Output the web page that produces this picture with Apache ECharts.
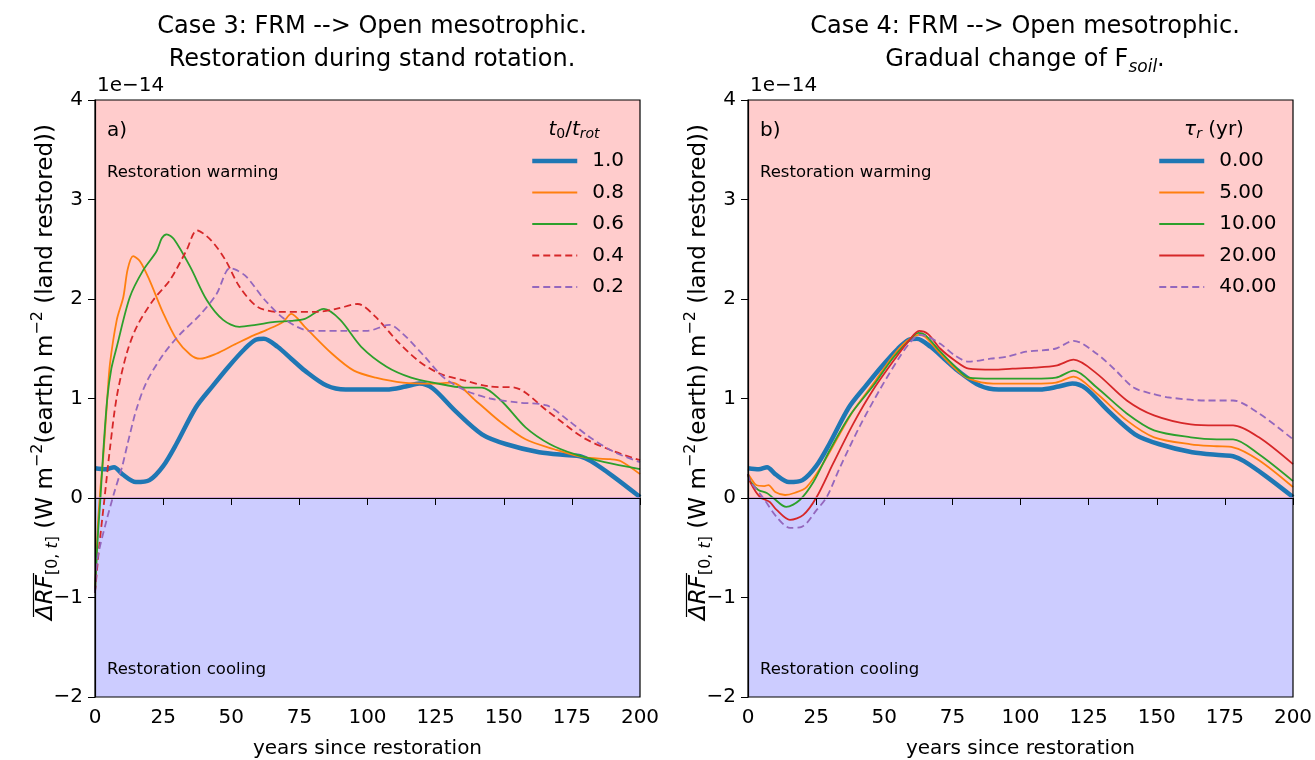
<!DOCTYPE html>
<html>
<head>
<meta charset="utf-8">
<title>Case 3 / Case 4 restoration forcing</title>
<script src="https://cdn.jsdelivr.net/npm/echarts@6/dist/echarts.min.js"></script>
<style>
  html, body { margin: 0; padding: 0; background: #fff; }
  #chart { width: 1315px; height: 760px; }
</style>
</head>
<body>
<div id="chart"></div>
<script>
// values are [years since restoration, forcing in units of 1e-14]
const yearTicks = [0, 25, 50, 75, 100, 125, 150, 175, 200]
const forcingTicks = [-2, -1, 0, 1, 2, 3, 4]

// Case 3 (t0/trot)
const namesA = ['1.0', '0.8', '0.6', '0.4', '0.2']
// 1.0 is also the 0.00 curve of case 4
const blueBase = [[0,0.30],[4,0.29],[7,0.31],[10,0.24],[15,0.16],[20,0.18],[25,0.32],[30,0.55],[37,0.91],[43,1.12],[49,1.32],[55,1.50],[59,1.59],[62,1.60],[67,1.52],[72,1.40],[77,1.28],[85,1.13],[92,1.09],[100,1.09],[107,1.09],[114,1.12],[119,1.15],[124,1.10],[132,0.88],[142,0.64],[151,0.54],[163,0.46],[174,0.43],[178,0.42],[182,0.37],[190,0.22],[200,0.01]]
const orangeA = [[0,-0.95],[1,-0.3],[2,0.1],[3,0.4],[4.5,1.0],[5.5,1.35],[8,1.79],[10.4,2.02],[12,2.3],[14,2.43],[16.5,2.38],[20,2.19],[25,1.86],[30,1.59],[35,1.44],[38.5,1.40],[44.5,1.45],[51,1.54],[57,1.62],[63,1.69],[69,1.77],[72,1.85],[77,1.72],[87,1.45],[95,1.28],[103,1.21],[113,1.16],[124,1.15],[131,1.16],[139.6,0.98],[149,0.76],[158,0.59],[168.5,0.49],[179,0.41],[189,0.39],[193,0.37],[200,0.24]]
const greenA = [[0,-0.95],[1,-0.4],[2,0.0],[3,0.45],[4.5,1.0],[6,1.3],[8,1.52],[12.8,2.02],[17.7,2.29],[22.6,2.48],[24.5,2.61],[26.3,2.65],[29,2.6],[35,2.32],[41,1.99],[47,1.79],[53,1.72],[59,1.74],[66,1.77],[72,1.78],[77,1.80],[84,1.90],[90,1.79],[97.7,1.52],[107,1.32],[116,1.21],[124,1.16],[135.7,1.11],[142,1.11],[149,0.98],[158,0.71],[167,0.54],[176,0.44],[187,0.36],[200,0.29]]
const redA = [[0,-0.95],[1.5,-0.5],[3.5,0],[5.5,0.5],[8,1.02],[11.6,1.45],[15.3,1.72],[21.4,1.99],[27.5,2.19],[33.6,2.49],[37.4,2.69],[42.6,2.59],[47.9,2.39],[53.1,2.12],[59.7,1.92],[67.5,1.87],[80.6,1.87],[88.5,1.90],[96.4,1.95],[103,1.82],[110.8,1.58],[118.6,1.38],[126.5,1.25],[135.7,1.18],[145,1.12],[154,1.11],[165.8,0.88],[179,0.61],[189.4,0.48],[200,0.38]]
const purpleA = [[0,-0.95],[1,-0.6],[4,-0.25],[7,0.05],[10,0.32],[12,0.55],[15.3,0.9],[19,1.17],[25,1.44],[31,1.64],[38.5,1.84],[44.6,2.05],[49.5,2.31],[52,2.29],[55.7,2.22],[62.3,1.99],[70,1.79],[79,1.68],[90,1.68],[100,1.68],[108,1.74],[113,1.65],[121,1.42],[128,1.21],[136,1.08],[145,1.00],[155,0.96],[165.8,0.93],[173.7,0.78],[181.6,0.61],[190.7,0.46],[200,0.36]]

// Case 4 (tau_r)
const namesB = ['0.00', '5.00', '10.00', '20.00', '40.00']
const orangeB = [[0,0.24],[1,0.2],[3,0.13],[6,0.12],[7.5,0.13],[10,0.06],[13.6,0.03],[17,0.05],[21.5,0.11],[27.6,0.35],[33.8,0.65],[38.7,0.88],[46,1.15],[53,1.42],[58,1.57],[62.5,1.64],[65,1.62],[70.6,1.45],[76,1.30],[81,1.20],[90,1.15],[97,1.15],[105,1.15],[113,1.16],[119.5,1.22],[128,1.05],[139,0.78],[149,0.61],[162.5,0.54],[172,0.52],[178,0.51],[187.5,0.38],[200,0.11]]
const greenB = [[0,0.24],[1,0.16],[3.8,0.08],[6.9,0.05],[9.3,0.0],[14,-0.09],[19,-0.02],[24,0.16],[30,0.48],[37.4,0.83],[46,1.13],[53,1.40],[59,1.58],[62.5,1.66],[65,1.64],[70.6,1.47],[76,1.32],[81,1.21],[90,1.20],[97,1.20],[105,1.20],[113,1.21],[119.5,1.28],[128,1.11],[139,0.85],[149,0.68],[162.5,0.61],[172,0.59],[178,0.59],[187.5,0.44],[200,0.17]]
const redB = [[0,0.24],[1,0.15],[4.4,0.01],[8,-0.04],[10.5,-0.12],[15.4,-0.22],[20.3,-0.17],[25.2,0.01],[31.3,0.35],[38.7,0.75],[46,1.09],[54.5,1.42],[59,1.58],[62.8,1.68],[66,1.65],[70.6,1.50],[76,1.38],[81,1.30],[90,1.29],[97,1.30],[105,1.31],[113,1.33],[119.5,1.39],[128,1.25],[139,0.98],[149,0.83],[162.5,0.74],[172,0.73],[178,0.73],[187.5,0.61],[200,0.34]]
const purpleB = [[0,0.24],[1,0.16],[5.6,0.0],[10.5,-0.19],[15.4,-0.30],[19.7,-0.29],[25.2,-0.12],[28.9,0.01],[33.8,0.31],[41,0.72],[48.4,1.09],[55.7,1.42],[60,1.58],[63,1.64],[66,1.62],[70.6,1.55],[76,1.43],[81,1.37],[89,1.40],[95,1.42],[102,1.47],[112.7,1.50],[119.5,1.58],[128,1.45],[135,1.28],[141.5,1.11],[148,1.05],[154.7,1.01],[167.8,0.98],[178,0.98],[187.5,0.85],[200,0.59]]

const colors = ['#1f77b4', '#ff7f0e', '#2ca02c', '#d62728', '#9467bd']
const FONT = 'DejaVu Sans'
const xMin = yearTicks[0], xMax = yearTicks[yearTicks.length - 1]
const yMin = forcingTicks[0], yMax = forcingTicks[forcingTicks.length - 1]

const chart = echarts.init(document.getElementById('chart'))

const line = (name, data, idx, color, width, dashed) => ({
    name, type: 'line', xAxisIndex: idx, yAxisIndex: idx, data,
    symbol: 'none', smooth: 0.3, z: 3,
    lineStyle: { color, width, type: dashed ? [7, 4] : 'solid' },
    itemStyle: { color }
})

// pink / lavender bands + the zero line
const background = (idx) => ({
    type: 'line', xAxisIndex: idx, yAxisIndex: idx, data: [], silent: true, z: 1,
    markArea: {
        silent: true,
        data: [
            [{ xAxis: xMin, yAxis: 0, itemStyle: { color: '#ffcccc' } }, { xAxis: xMax, yAxis: yMax }],
            [{ xAxis: xMin, yAxis: yMin, itemStyle: { color: '#ccccff' } }, { xAxis: xMax, yAxis: 0 }]
        ]
    },
    markLine: {
        silent: true, symbol: 'none', label: { show: false },
        lineStyle: { color: '#c390d8', width: 1.5, type: 'solid' },
        data: [{ yAxis: 0 }]
    }
})

// fixed plot boxes; v6 would otherwise shrink them to keep the axis names inside
const grids = [
    { left: 95, top: 100, width: 545, height: 597 },
    { left: 748, top: 100, width: 545, height: 597 }
]

const xAxisOf = (idx) => ({
    type: 'value', gridIndex: idx, min: xMin, max: xMax, interval: 25, z: 5,
    name: 'years since restoration', nameLocation: 'middle', nameGap: 42,
    nameTextStyle: { fontSize: 20, fontFamily: FONT, color: '#000' },
    axisLine: { show: true, lineStyle: { color: '#000', width: 1.2 } },
    axisTick: { show: true, inside: false, length: 7, lineStyle: { color: '#000' } },
    axisLabel: { fontSize: 20, fontFamily: FONT, color: '#000', margin: 11 },
    splitLine: { show: false }
})

const yAxisOf = (idx) => ({
    type: 'value', gridIndex: idx, min: yMin, max: yMax, interval: 1, z: 5,
    axisLine: { show: true, onZero: false, lineStyle: { color: '#000', width: 1.2 } },
    axisTick: { show: true, inside: false, length: 7, lineStyle: { color: '#000' } },
    axisLabel: {
        fontSize: 20, fontFamily: FONT, color: '#000', margin: 12,
        formatter: v => (v < 0 ? '−' + Math.abs(v) : String(v))
    },
    splitLine: { show: false }
})

const legendOf = (names, left) => ({
    data: names, orient: 'vertical', left, top: 146,
    itemWidth: 45, itemHeight: 14, itemGap: 11.5,
    selectedMode: false,
    lineStyle: { width: 'inherit' },
    itemStyle: { opacity: 0 },
    textStyle: { fontSize: 20, fontFamily: FONT, color: '#000', padding: [0, 0, 0, 10] }
})

const txt = (x, y, text, size, extra) => ({
    type: 'text', x, y, silent: true, z: 10,
    style: Object.assign({ text, fill: '#000', fontSize: size, fontFamily: FONT, verticalAlign: 'middle' }, extra || {})
})

// rotated y label, laid out piece by piece so the overline can sit over ΔRF
const ctx = document.createElement('canvas').getContext('2d')
const measure = (text, size, italic) => {
    ctx.font = (italic ? 'italic ' : '') + size + 'px "' + FONT + '"'
    return ctx.measureText(text).width
}
const Y_SIZE = 23, Y_SMALL = 16
const yLabelParts = [
    { text: 'ΔRF', small: false, italic: true, shift: 0, over: true },
    { text: '[0, ', small: true, shift: 7 },
    { text: 't', small: true, italic: true, shift: 7 },
    { text: ']', small: true, shift: 7 },
    { text: ' (W m', small: false, shift: 0 },
    { text: '−2', small: true, shift: -8 },
    { text: '(earth) m', small: false, shift: 0 },
    { text: '−2', small: true, shift: -8 },
    { text: ' (land restored))', small: false, shift: 0 }
]
const yLabel = (cx, cy) => {
    const widths = yLabelParts.map(p => measure(p.text, p.small ? Y_SMALL : Y_SIZE, p.italic))
    const total = widths.reduce((a, b) => a + b, 0)
    let cursor = -total / 2
    const children = []
    yLabelParts.forEach((p, i) => {
        children.push({
            type: 'text', x: cursor, y: p.shift,
            style: {
                text: p.text, fill: '#000', fontFamily: FONT,
                fontSize: p.small ? Y_SMALL : Y_SIZE,
                fontStyle: p.italic ? 'italic' : 'normal',
                verticalAlign: 'middle', align: 'left'
            }
        })
        if (p.over) {
            children.push({
                type: 'line',
                shape: { x1: cursor + 3, y1: -12.5, x2: cursor + widths[i] + 2, y2: -12.5 },
                style: { stroke: '#000', lineWidth: 1.2 }
            })
        }
        cursor += widths[i]
    })
    return { type: 'group', x: cx, y: cy, rotation: Math.PI / 2, silent: true, z: 10, children }
}

const option = {
    animation: false,
    backgroundColor: '#fff',
    title: [
        {
            text: 'Case 3: FRM --> Open mesotrophic.\nRestoration during stand rotation.',
            left: 367, top: 5, textAlign: 'center',
            textStyle: { fontSize: 24, fontWeight: 'normal', fontFamily: FONT, color: '#000', lineHeight: 33 }
        },
        {
            text: 'Case 4: FRM --> Open mesotrophic.\nGradual change of F{sub|soil}.',
            left: 1020, top: 5, textAlign: 'center',
            textStyle: {
                fontSize: 24, fontWeight: 'normal', fontFamily: FONT, color: '#000', lineHeight: 33,
                rich: {
                    sub: { fontSize: 17, fontStyle: 'italic', fontFamily: FONT, color: '#000', verticalAlign: 'bottom', lineHeight: 33, padding: [10, 0, 0, 0] }
                }
            }
        }
    ],
    grid: grids.map(g => Object.assign({
        show: true, borderColor: '#000', borderWidth: 1.2, backgroundColor: 'transparent', z: 5,
        containLabel: false, outerBoundsMode: 'none'
    }, g)),
    xAxis: [xAxisOf(0), xAxisOf(1)],
    yAxis: [yAxisOf(0), yAxisOf(1)],
    legend: [legendOf(namesA, 525), legendOf(namesB, 1152)],
    series: [
        background(0),
        line(namesA[0], blueBase, 0, colors[0], 4.5, false),
        line(namesA[1], orangeA, 0, colors[1], 1.8, false),
        line(namesA[2], greenA, 0, colors[2], 1.8, false),
        line(namesA[3], redA, 0, colors[3], 1.8, true),
        line(namesA[4], purpleA, 0, colors[4], 1.8, true),
        background(1),
        line(namesB[0], blueBase, 1, colors[0], 4.5, false),
        line(namesB[1], orangeB, 1, colors[1], 1.8, false),
        line(namesB[2], greenB, 1, colors[2], 1.8, false),
        line(namesB[3], redB, 1, colors[3], 1.8, false),
        line(namesB[4], purpleB, 1, colors[4], 1.8, true)
    ],
    graphic: [
        yLabel(46, 372),
        yLabel(699, 372),
        txt(97, 86, '1e−14', 20),
        txt(750, 86, '1e−14', 20),
        txt(107, 131, 'a)', 20),
        txt(760, 131, 'b)', 20),
        txt(107, 173, 'Restoration warming', 16.5),
        txt(760, 173, 'Restoration warming', 16.5),
        txt(107, 670, 'Restoration cooling', 16.5),
        txt(760, 670, 'Restoration cooling', 16.5),
        txt(574, 130, '{i|t}{s|0}/{i|t}{si|rot}', 20, {
            align: 'center',
            rich: {
                i: { fontSize: 20, fontStyle: 'italic', fontFamily: FONT, fill: '#000' },
                s: { fontSize: 14, fontFamily: FONT, fill: '#000', verticalAlign: 'bottom', padding: [8, 0, 0, 0] },
                si: { fontSize: 14, fontStyle: 'italic', fontFamily: FONT, fill: '#000', verticalAlign: 'bottom', padding: [8, 0, 0, 0] }
            }
        }),
        txt(1214, 130, '{i|τ}{si|r} (yr)', 20, {
            align: 'center',
            rich: {
                i: { fontSize: 20, fontStyle: 'italic', fontFamily: FONT, fill: '#000' },
                si: { fontSize: 14, fontStyle: 'italic', fontFamily: FONT, fill: '#000', verticalAlign: 'bottom', padding: [8, 0, 0, 0] }
            }
        })
    ]
}

chart.setOption(option)
window.addEventListener('resize', () => chart.resize())
</script>
</body>
</html>
